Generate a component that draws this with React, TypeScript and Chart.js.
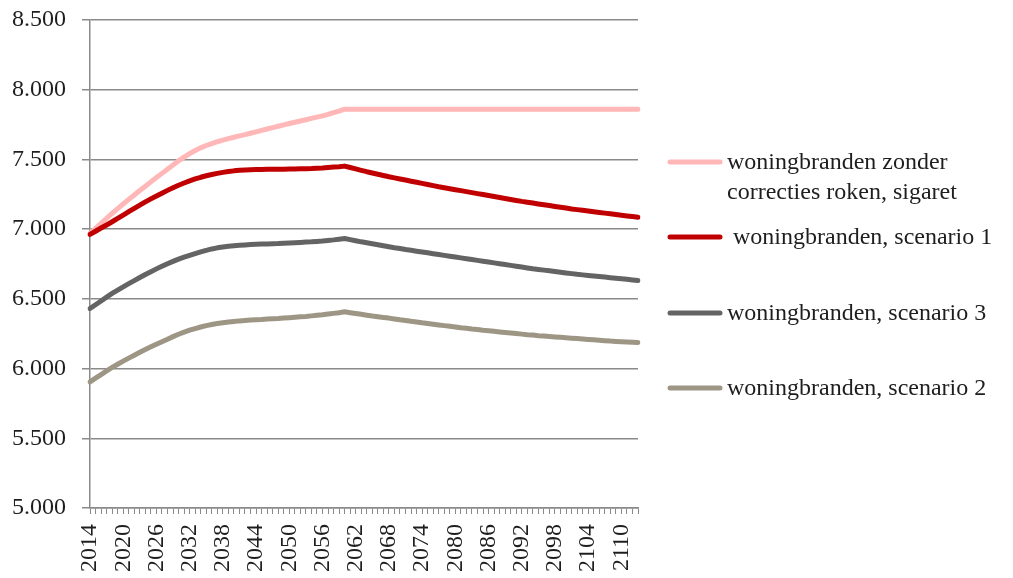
import React, { useEffect, useRef } from "react";
import { Chart, registerables } from "chart.js";

Chart.register(...registerables);

const YEARS: number[] = [
  2014, 2015, 2016, 2017, 2018, 2019, 2020, 2021, 2022, 2023,
  2024, 2025, 2026, 2027, 2028, 2029, 2030, 2031, 2032, 2033,
  2034, 2035, 2036, 2037, 2038, 2039, 2040, 2041, 2042, 2043,
  2044, 2045, 2046, 2047, 2048, 2049, 2050, 2051, 2052, 2053,
  2054, 2055, 2056, 2057, 2058, 2059, 2060, 2061, 2062, 2063,
  2064, 2065, 2066, 2067, 2068, 2069, 2070, 2071, 2072, 2073,
  2074, 2075, 2076, 2077, 2078, 2079, 2080, 2081, 2082, 2083,
  2084, 2085, 2086, 2087, 2088, 2089, 2090, 2091, 2092, 2093,
  2094, 2095, 2096, 2097, 2098, 2099, 2100, 2101, 2102, 2103,
  2104, 2105, 2106, 2107, 2108, 2109, 2110, 2111, 2112, 2113,
];

const ZONDER_CORRECTIES: number[] = [
  6970, 7006, 7042, 7078, 7113, 7147, 7180, 7213, 7245, 7277,
  7308, 7339, 7370, 7400, 7430, 7460, 7490, 7517, 7542, 7564,
  7583, 7600, 7614, 7627, 7638, 7649, 7659, 7669, 7678, 7688,
  7698, 7708, 7718, 7728, 7738, 7748, 7758, 7767, 7776, 7785,
  7794, 7803, 7812, 7823, 7835, 7847, 7860, 7860, 7860, 7860,
  7860, 7860, 7860, 7860, 7860, 7860, 7860, 7860, 7860, 7860,
  7860, 7860, 7860, 7860, 7860, 7860, 7860, 7860, 7860, 7860,
  7860, 7860, 7860, 7860, 7860, 7860, 7860, 7860, 7860, 7860,
  7860, 7860, 7860, 7860, 7860, 7860, 7860, 7860, 7860, 7860,
  7860, 7860, 7860, 7860, 7860, 7860, 7860, 7860, 7860, 7860,
];

const SCENARIO_1: number[] = [
  6962, 6985, 7008, 7030, 7053, 7077, 7101, 7125, 7149, 7172,
  7195, 7217, 7238, 7258, 7278, 7297, 7315, 7331, 7346, 7360,
  7372, 7383, 7392, 7400, 7407, 7413, 7418, 7422, 7424, 7426,
  7427, 7428, 7429, 7429, 7430, 7430, 7431, 7432, 7433, 7434,
  7435, 7437, 7439, 7442, 7445, 7448, 7452, 7442, 7432, 7422,
  7412, 7403, 7394, 7385, 7376, 7368, 7360, 7352, 7344, 7336,
  7328, 7320, 7312, 7304, 7297, 7290, 7283, 7276, 7269, 7262,
  7255, 7248, 7241, 7234, 7227, 7220, 7213, 7206, 7199, 7193,
  7187, 7181, 7175, 7169, 7163, 7157, 7151, 7145, 7140, 7135,
  7130, 7125, 7120, 7115, 7110, 7105, 7100, 7095, 7090, 7085,
];

const SCENARIO_3: number[] = [
  6431, 6458, 6485, 6512, 6539, 6563, 6586, 6609, 6631, 6653,
  6675, 6695, 6715, 6734, 6752, 6769, 6785, 6799, 6812, 6825,
  6837, 6848, 6858, 6866, 6872, 6877, 6881, 6885, 6887, 6889,
  6891, 6893, 6894, 6896, 6897, 6899, 6901, 6903, 6905, 6907,
  6909, 6912, 6915, 6919, 6923, 6928, 6933, 6925, 6917, 6909,
  6902, 6895, 6888, 6881, 6874, 6867, 6861, 6854, 6848, 6842,
  6836, 6830, 6824, 6818, 6812, 6806, 6800, 6794, 6788, 6782,
  6776, 6770, 6764, 6758, 6752, 6746, 6740, 6734, 6728, 6722,
  6716, 6711, 6706, 6701, 6696, 6691, 6686, 6681, 6676, 6672,
  6668, 6664, 6660, 6656, 6652, 6648, 6644, 6640, 6636, 6632,
];

const SCENARIO_2: number[] = [
  5905, 5931, 5957, 5983, 6008, 6031, 6053, 6075, 6096, 6117,
  6137, 6156, 6175, 6193, 6211, 6229, 6246, 6261, 6275, 6287,
  6298, 6308, 6316, 6323, 6329, 6334, 6338, 6342, 6345, 6348,
  6350, 6352, 6355, 6357, 6359, 6362, 6365, 6368, 6371, 6374,
  6378, 6382, 6386, 6391, 6396, 6401, 6407, 6401, 6395, 6389,
  6383, 6377, 6372, 6367, 6362, 6356, 6350, 6345, 6339, 6334,
  6328, 6323, 6318, 6313, 6308, 6303, 6298, 6293, 6289, 6284,
  6280, 6275, 6271, 6267, 6263, 6259, 6255, 6251, 6247, 6243,
  6240, 6236, 6233, 6230, 6227, 6224, 6221, 6218, 6215, 6212,
  6209, 6206, 6203, 6200, 6197, 6195, 6193, 6191, 6189, 6187,
];

const SERIES_NAMES: string[][] = [
  ["woningbranden zonder", "correcties roken, sigaret"],
  [" woningbranden, scenario 1"],
  ["woningbranden, scenario 3"],
  ["woningbranden, scenario 2"],
];

const COLORS = ["#FFB7B7", "#C00000", "#646464", "#9E9684"];
const LEGEND_Y = [162, 237, 313, 388];

const FONT = "'Liberation Serif', 'Times New Roman', serif";
const FONT_SIZE = 24;
const TEXT_COLOR = "#1e1e1e";
const GRID_COLOR = "#8a8a8a";

function fmt(v: number): string {
  const t = Math.floor(v / 1000);
  const r = Math.round(v % 1000);
  return t + "." + String(r).padStart(3, "0");
}

const sideLegend = {
  id: "sideLegend",
  afterDraw(chart: any) {
    const ctx = chart.ctx as CanvasRenderingContext2D;
    const x0 = chart.chartArea.right + 30;
    ctx.save();
    ctx.font = `${FONT_SIZE}px ${FONT}`;
    ctx.fillStyle = TEXT_COLOR;
    ctx.textBaseline = "middle";
    ctx.textAlign = "left";
    SERIES_NAMES.forEach((lines, i) => {
      const y = LEGEND_Y[i];
      ctx.strokeStyle = COLORS[i];
      ctx.lineWidth = 5;
      ctx.lineCap = "round";
      ctx.beginPath();
      ctx.moveTo(x0 + 2, y);
      ctx.lineTo(x0 + 52, y);
      ctx.stroke();
      lines.forEach((ln, j) => {
        ctx.fillText(ln, x0 + 59, y + 1 + j * 30);
      });
    });
    ctx.restore();
  },
};

export default function App() {
  const ref = useRef<HTMLCanvasElement | null>(null);

  useEffect(() => {
    if (!ref.current) return;
    const seriesData = [ZONDER_CORRECTIES, SCENARIO_1, SCENARIO_3, SCENARIO_2];
    const order = [1, 0, 2, 3];
    const chart = new Chart(ref.current, {
      type: "line",
      data: {
        labels: YEARS.map(String),
        datasets: seriesData.map((d, i) => ({
          label: SERIES_NAMES[i].join(" ").trim(),
          data: d,
          borderColor: COLORS[i],
          backgroundColor: COLORS[i],
          borderWidth: 5,
          pointRadius: 0,
          tension: 0,
          borderCapStyle: "round" as const,
          borderJoinStyle: "round" as const,
          order: order[i],
        })),
      },
      options: {
        animation: false,
        responsive: true,
        maintainAspectRatio: false,
        layout: { padding: { left: 0, top: 20, right: 375, bottom: 0 } },
        plugins: {
          legend: { display: false },
          tooltip: { enabled: false },
        },
        scales: {
          x: {
            offset: false,
            border: { display: true, color: GRID_COLOR, width: 1.5 },
            grid: {
              drawOnChartArea: false,
              drawTicks: true,
              tickLength: 6,
              color: GRID_COLOR,
              lineWidth: 1,
            },
            ticks: {
              autoSkip: false,
              maxRotation: 90,
              minRotation: 90,
              padding: 10,
              color: TEXT_COLOR,
              font: { family: FONT, size: FONT_SIZE },
              callback: (_v: any, i: number) => (i % 6 === 0 ? String(YEARS[i]) : ""),
            },
            afterFit: (s: any) => {
              s.height = 70;
              s.paddingLeft = 0;
              s.paddingRight = 0;
            },
          },
          y: {
            min: 5000,
            max: 8500,
            border: { display: true, color: GRID_COLOR, width: 1.5 },
            grid: {
              color: GRID_COLOR,
              lineWidth: 1.5,
              tickLength: 8,
              drawTicks: true,
            },
            ticks: {
              stepSize: 500,
              padding: 16,
              color: TEXT_COLOR,
              font: { family: FONT, size: FONT_SIZE },
              callback: (v: any) => fmt(Number(v)),
            },
            afterFit: (s: any) => {
              s.width = 90;
              s.paddingTop = 0;
              s.paddingBottom = 0;
            },
          },
        },
      },
      plugins: [sideLegend],
    });
    return () => chart.destroy();
  }, []);

  return (
    <div style={{ position: "absolute", left: 0, top: 0, width: 1013, height: 578, background: "#fff" }}>
      <canvas ref={ref} />
    </div>
  );
}
